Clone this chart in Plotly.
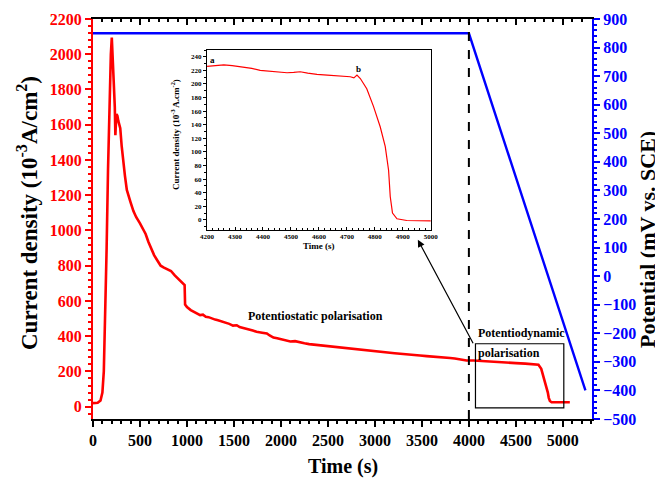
import plotly.graph_objects as go

# ---------------- data ----------------
time_main = [0, 50, 80, 100, 115, 130, 145, 160, 175, 190, 200, 210, 220, 232, 238, 243, 250, 260, 270, 290,
             305, 320, 340, 360, 380, 400, 430, 460, 500, 530, 560, 590, 620, 650, 690, 720, 750, 790, 830,
             870, 910, 950, 975, 980, 1000, 1040, 1080, 1110, 1140, 1170, 1200, 1230, 1260, 1300, 1330, 1370,
             1400, 1450, 1490, 1530, 1560, 1600, 1650, 1700, 1740, 1800, 1850, 1880, 1920, 1960, 2000, 2050,
             2100, 2150, 2200, 2250, 2300, 2350, 2400, 2480, 2550, 2620, 2700, 2750, 2800, 2860, 2910, 2980,
             3050, 3100, 3150, 3210, 3270, 3330, 3400, 3480, 3550, 3620, 3690, 3750, 3800, 3850, 3900, 3975,
             4050, 4100, 4150, 4200, 4300, 4400, 4500, 4600, 4700, 4740, 4770, 4790, 4810, 4826, 4840, 4850,
             4862, 4880, 5074]
current_main = [20, 22, 35, 80, 200, 500, 900, 1350, 1750, 2000, 2095, 2000, 1850, 1700, 1540, 1600, 1660, 1650,
                1620, 1580, 1480, 1400, 1310, 1230, 1190, 1160, 1110, 1075, 1040, 1010, 980, 935, 895, 860, 825,
                800, 790, 780, 770, 745, 725, 705, 690, 580, 565, 548, 535, 530, 520, 522, 510, 508, 500, 494,
                490, 484, 480, 470, 460, 462, 452, 448, 440, 432, 425, 420, 415, 404, 392, 388, 382, 378, 370,
                372, 368, 360, 355, 352, 350, 345, 340, 336, 330, 328, 325, 322, 320, 316, 312, 309, 306, 303,
                300, 296, 292, 290, 287, 285, 282, 279, 276, 273, 270, 262, 262, 260, 258, 255, 252, 250, 247,
                244, 240, 238, 215, 175, 140, 115, 80, 50, 32, 25, 25]

time_potential = [0, 4000, 5240]
potential = [850, 850, -400]

time_inset = [4200, 4230, 4260, 4290, 4331, 4360, 4390, 4420, 4450, 4486, 4510, 4533, 4560, 4593, 4630, 4664,
              4690, 4712, 4725, 4736, 4748, 4760, 4771, 4795, 4819, 4837, 4849, 4855, 4863, 4879, 4914, 5000]
current_inset = [226, 227, 228, 227, 225, 223, 220, 219, 217, 216.5, 217, 218, 216, 214, 213, 212, 211, 210.6, 209,
                 213, 208, 200, 193, 167, 137, 108, 73, 34, 10, 1.5, -1, -1.5]

main_xticks = [0, 500, 1000, 1500, 2000, 2500, 3000, 3500, 4000, 4500, 5000]
inset_xticks = [4200, 4300, 4400, 4500, 4600, 4700, 4800, 4900, 5000]
inset_yticks = list(range(0, 241, 20))

FONT = "Liberation Serif"
RED = "#ff0000"
BLUE = "#0000ff"

fig = go.Figure()

fig.add_trace(go.Scatter(x=time_main, y=current_main, mode="lines",
                         line=dict(color=RED, width=2.6), xaxis="x", yaxis="y", showlegend=False))
fig.add_trace(go.Scatter(x=time_potential, y=potential, mode="lines",
                         line=dict(color=BLUE, width=2.4), xaxis="x", yaxis="y2", showlegend=False))
# invisible trace to show top axis
fig.add_trace(go.Scatter(x=[0], y=[0], mode="markers", marker=dict(opacity=0),
                         xaxis="x2", yaxis="y", showlegend=False, hoverinfo="skip"))
# inset
fig.add_trace(go.Scatter(x=time_inset, y=current_inset, mode="lines",
                         line=dict(color=RED, width=1.2), xaxis="x3", yaxis="y3", showlegend=False))

tickfont = dict(family=FONT, size=16, color="black", weight="bold")


def ann(text, x, y, size, textangle=0, xanchor="center", xref="paper", yref="paper"):
    return dict(text=text, x=x, y=y, xref=xref, yref=yref, textangle=textangle, showarrow=False,
                xanchor=xanchor, yanchor="middle",
                font=dict(family=FONT, size=size, color="black", weight="bold"))


fig.update_layout(
    width=655, height=475,
    margin=dict(l=85, r=71, t=11, b=64, autoexpand=False),
    paper_bgcolor="white", plot_bgcolor="white",
    xaxis=dict(domain=[0, 1], range=[0, 5310], tickvals=main_xticks, ticks="outside", ticklen=6, tickwidth=1.5,
               tickcolor="black", showline=True, linecolor="black", linewidth=2, mirror=False,
               showgrid=False, zeroline=False, tickfont=tickfont, automargin=False,
               minor=dict(dtick=100, tick0=0, ticks="outside", ticklen=3, tickcolor="black", showgrid=False)),
    xaxis2=dict(overlaying="x", side="top", range=[0, 5310], tickvals=main_xticks, ticks="inside", ticklen=6,
                tickwidth=1.5, tickcolor="black", showline=True, linecolor="black", linewidth=2,
                showticklabels=False, showgrid=False, zeroline=False, automargin=False,
                minor=dict(dtick=100, tick0=0, ticks="inside", ticklen=3, tickcolor="black", showgrid=False)),
    yaxis=dict(range=[-70, 2200], dtick=200, tick0=0, ticks="outside", ticklen=6, tickwidth=1.5, tickcolor=RED,
               showline=True, linecolor=RED, linewidth=2, showgrid=False, zeroline=False, automargin=False,
               tickfont=dict(family=FONT, size=16, color=RED, weight="bold"),
               minor=dict(dtick=40, tick0=0, ticks="outside", ticklen=3, tickcolor=RED, showgrid=False)),
    yaxis2=dict(overlaying="y", side="right", range=[-500, 900], dtick=100, tick0=0, ticks="outside", ticklen=6,
                tickwidth=1.5, tickcolor=BLUE, showline=True, linecolor=BLUE, linewidth=2, showgrid=False,
                zeroline=False, automargin=False, tickfont=dict(family=FONT, size=16, color=BLUE, weight="bold"),
                minor=dict(dtick=20, tick0=0, ticks="outside", ticklen=3, tickcolor=BLUE, showgrid=False)),
    xaxis3=dict(domain=[0.2285, 0.677], anchor="y3", range=[4200, 5000], tickvals=inset_xticks,
                ticks="inside", ticklen=3, tickcolor="black", showline=True, linecolor="black", linewidth=1,
                mirror=True, showgrid=False, zeroline=False, automargin=False,
                tickfont=dict(family=FONT, size=7, color="black", weight="bold"),
                minor=dict(dtick=20, ticks="inside", ticklen=2, tickcolor="black", showgrid=False)),
    yaxis3=dict(domain=[0.4725, 0.9225], anchor="x3", range=[-15, 250], tickvals=inset_yticks,
                ticks="outside", ticklen=3, tickcolor="black", showline=True, linecolor="black", linewidth=1,
                mirror=True, showgrid=False, zeroline=False, automargin=False,
                tickfont=dict(family=FONT, size=7, color="black", weight="bold"),
                minor=dict(dtick=10, ticks="outside", ticklen=2, tickcolor="black", showgrid=False)),
    shapes=[
        dict(type="line", xref="x", yref="paper", x0=4000, x1=4000, y0=0, y1=1,
             line=dict(color="black", width=2, dash="dash")),
        dict(type="rect", xref="x", yref="y", x0=4070, x1=5010, y0=-7, y1=357,
             line=dict(color="black", width=1.2)),
    ],
    annotations=[
        ann("Current density (10<sup>-3</sup>A/cm<sup>2</sup>)", (27 - 93) / 499, (419 - 213) / 400, 23, -90),
        ann("Potential (mV vs. SCE)", (647 - 93) / 499, (419 - 240) / 400, 22, -90),
        ann("Time (s)", 0.5, (419 - 466) / 400, 20),
        ann("Potentiostatic polarisation", 2372, 516, 12, xref="x", yref="y"),
        ann("Potentiodynamic", 4080, 420, 12, xanchor="left", xref="x", yref="y"),
        ann("polarisation", 4080, 306, 12, xanchor="left", xref="x", yref="y"),
        dict(text="", xref="x", yref="y", x=3457, y=947, ax=4053, ay=351, axref="x", ayref="y",
             showarrow=True, arrowhead=2, arrowsize=1.2, arrowwidth=1.2, arrowcolor="black"),
        # inset labels
        ann("Current density (10<sup>-3</sup> A.cm<sup>-2</sup>)", (175 - 93) / 499, (419 - 135) / 400, 9, -90),
        ann("Time (s)", (319 - 93) / 499, (419 - 246) / 400, 9),
        ann("a", 4218, 236, 9, xref="x3", yref="y3"),
        ann("b", 4741, 222, 9, xref="x3", yref="y3"),
    ],
)

fig.write_html("out.html")
